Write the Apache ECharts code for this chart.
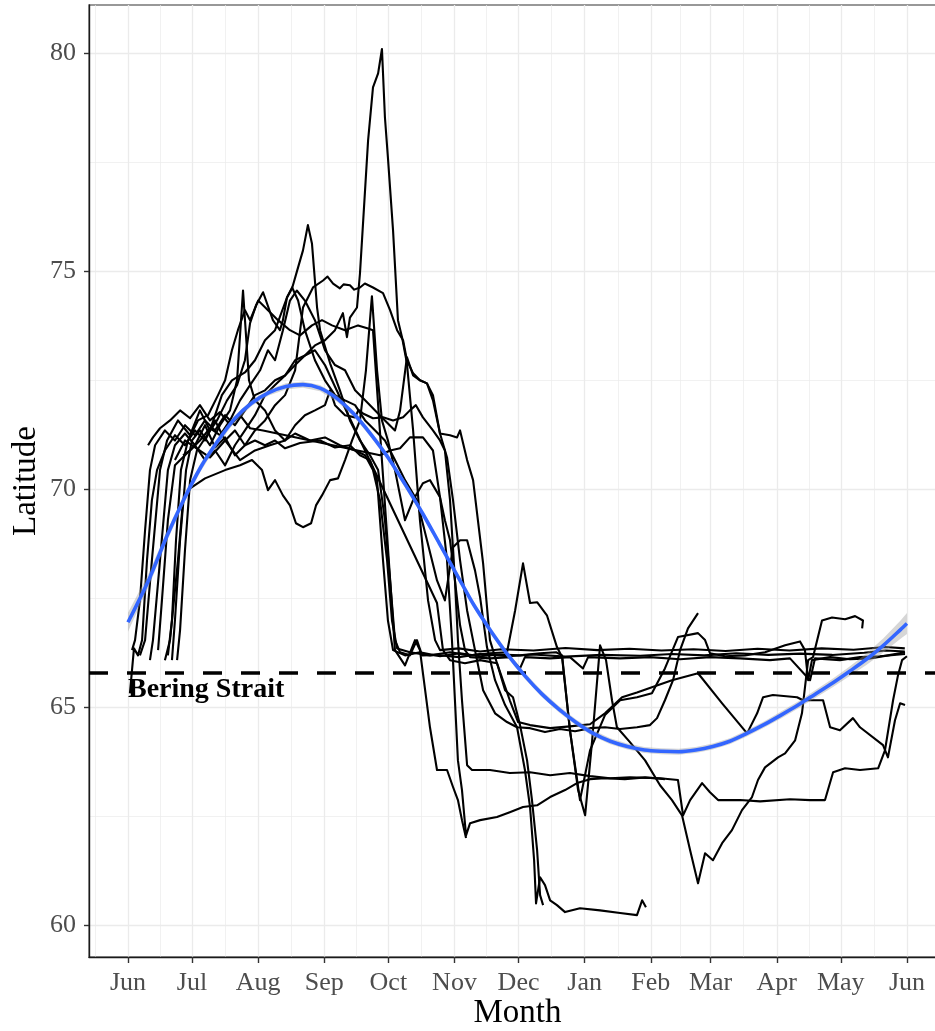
<!DOCTYPE html>
<html>
<head>
<meta charset="utf-8">
<script src="https://cdn.jsdelivr.net/npm/echarts@6/dist/echarts.min.js"></script>
<style>
  html, body { margin: 0; padding: 0; background: #ffffff; }
  #chart { width: 935px; height: 1031px; }
</style>
</head>
<body>
<div id="chart"></div>
<script>
// Days counted from 1 June; one year of tracking.
const monthStarts = [0, 30, 61, 92, 122, 153, 183, 214, 245, 273, 304, 334, 365];
const monthLabels = ['Jun', 'Jul', 'Aug', 'Sep', 'Oct', 'Nov', 'Dec', 'Jan', 'Feb', 'Mar', 'Apr', 'May', 'Jun'];
const monthMids = [-15.5, 15, 45.5, 76.5, 107, 137.5, 168, 198.5, 229.5, 259, 288.5, 319, 349.5, 380.5];
const latTicks = [60, 65, 70, 75, 80];
const latMinor = [62.5, 67.5, 72.5, 77.5];
const beringStraitLat = 65.78;

// Individual tracks: [day since 1 June, latitude]
const track01 = [[1.9,66.31],[3.3,66.54],[5.6,67.45],[8.0,69.06],[10.3,70.44],[12.7,71.01],[17.3,71.35],[22.0,71.12],[26.7,71.47],[31.4,71.24],[36.1,71.58],[40.8,71.35],[45.5,71.7],[50.1,71.47],[54.8,71.81],[59.5,72.16],[64.2,72.27],[68.9,72.5],[73.6,72.61],[78.3,72.85],[82.9,73.07],[87.6,73.3],[92.3,73.42],[97.0,73.65],[100.7,74.04],[102.6,73.49],[104.0,73.94],[107.3,74.17],[108.7,74.95],[112.5,78.0],[114.8,79.22],[117.2,79.54],[119.0,80.1],[120.4,78.53],[121.8,77.61],[124.2,75.94],[126.5,73.88],[128.4,73.49],[130.7,72.89],[133.6,71.35],[136.8,69.29],[140.6,67.45],[143.9,66.54],[146.2,66.31],[155,66.35],[165,66.28],[175,66.33],[190,66.3],[205,66.36],[220,66.31],[235,66.34],[250,66.3],[265,66.33],[280,66.29],[295,66.34],[310,66.3],[325,66.35],[340,66.32],[355,66.38],[364,66.35]];
const track02 = [[10.3,66.08],[11.7,66.54],[15.0,68.37],[18.7,70.44],[22.0,71.01],[26.7,71.28],[31.4,71.01],[36.1,71.47],[40.8,70.96],[45.5,71.19],[50.1,70.78],[54.8,71.01],[59.5,71.35],[64.2,71.58],[68.9,71.93],[73.6,72.16],[78.3,72.73],[82.0,74.17],[86.7,74.63],[91.4,74.79],[93.5,74.88],[96.1,74.72],[99.3,74.61],[101.0,74.7],[104.0,74.68],[106.0,74.58],[108.7,74.63],[111.0,74.72],[114.8,74.63],[119.5,74.5],[122.8,74.11],[126.1,73.65],[128.9,73.42],[130.7,72.96],[133.6,72.66],[136.8,72.5],[140.1,72.43],[142.9,72.04],[146.2,71.28],[149.5,70.73],[152.3,69.75],[155.6,68.37],[158.9,67.22],[162.6,66.31],[166.4,65.39],[172.0,64.86],[177.6,64.66],[182.3,64.54],[188.4,64.52],[195.4,64.43],[202.4,64.5],[209.5,64.45],[216.5,64.52],[223.5,64.54],[230.6,64.5],[238.5,64.54],[244.6,64.59],[247.9,64.75],[251.6,65.16],[255.4,65.62],[258.7,66.31],[262.4,66.81],[267.1,67.16]];
const track03 = [[5.6,66.19],[8.0,66.54],[11.2,68.37],[15.0,70.44],[18.3,71.12],[23.4,71.58],[29.1,71.24],[33.7,71.81],[38.4,71.35],[44.0,72.16],[48.7,72.5],[54.8,72.68],[59.5,72.96],[64.2,73.42],[68.9,73.65],[74.5,74.4],[76.9,74.61],[79.7,75.09],[82.0,75.48],[84.3,76.06],[86.2,75.64],[88.6,74.17],[90.0,73.65],[94.7,72.89],[99.3,72.27],[104.0,71.58],[108.7,71.12],[113.4,70.78],[117.2,70.44],[120.4,69.29],[122.8,67.91],[125.1,66.54],[127.5,66.26],[132.1,66.19],[135.4,66.54],[137.8,66.19],[145,66.2],[155,66.15],[165,66.22],[178,66.17],[190,66.21],[205,66.16],[222,66.2],[240,66.18],[255,66.22],[270,66.19],[285,66.24],[300,66.2],[315,66.23],[330,66.2],[345,66.25],[355,66.3],[364,66.28]];
const track04 = [[9.4,71.01],[11.7,71.19],[15.0,71.4],[19.7,71.58],[24.4,71.81],[29.1,71.63],[33.7,71.93],[38.4,71.58],[43.1,71.77],[47.8,71.47],[52.5,71.7],[57.2,71.4],[63.3,71.35],[118.1,70.78],[122.8,70.89],[127.5,70.94],[132.1,71.19],[138.2,71.19],[142.9,70.89],[146.2,69.82],[148.5,69.29],[150.9,68.83],[153.2,67.91],[155.6,66.88],[157.9,66.31],[160.3,66.15],[169.6,66.12],[178.9,66.15],[183.7,65.89],[186.0,66.15],[197.8,66.12],[207.1,66.15],[213.2,65.89],[215.6,66.15],[230.6,66.12],[244.6,66.15],[258.7,66.1],[272.7,66.15],[286.8,66.12],[300.8,66.08],[310.2,66.12],[319.6,65.62],[321.9,66.12],[333.6,66.08],[343.0,66.15],[352.4,66.17],[364.1,66.22]];
const track05 = [[22.0,70.67],[26.7,71.12],[31.4,70.96],[38.4,70.73],[45.5,71.12],[52.5,70.67],[59.5,70.89],[66.5,71.01],[73.6,71.12],[78.3,71.47],[82.9,71.7],[87.6,71.81],[92.3,71.93],[94.7,72.27],[97.0,71.93],[101.7,71.7],[106.4,71.65],[108.0,71.82],[110.1,71.74],[114.8,71.63],[119.5,71.65],[124.2,71.58],[128.9,71.65],[132.1,71.81],[134.9,71.93],[138.2,71.65],[142.9,71.35],[146.2,71.12],[148.5,70.89],[150.9,69.75],[153.2,67.91],[154.6,66.54],[156.5,65.16],[158.9,63.67],[161.2,63.56],[169.6,63.56],[178.9,63.49],[188.4,63.51],[197.8,63.44],[207.1,63.49],[216.5,63.42],[225.9,63.37],[235.2,63.39],[249.3,63.37],[257.7,63.33],[260.1,62.52],[263.4,62.87],[269.0,63.26],[272.7,63.05],[276.5,62.87],[286.8,62.87],[296.2,62.84],[310.2,62.89],[319.6,62.87],[326.6,62.87],[330.4,63.51],[336.0,63.6],[343.0,63.56],[351.5,63.6],[354.7,64.01],[358.5,65.16],[360.8,65.73],[362.7,66.08],[365.0,66.17]];
const track06 = [[17.3,66.08],[19.7,66.54],[23.4,68.37],[25.8,69.75],[29.1,70.02],[36.1,70.25],[45.5,70.44],[52.5,70.55],[58.1,70.67],[62.8,70.44],[65.6,69.98],[68.9,70.21],[72.6,69.86],[75.9,69.63],[78.7,69.22],[82.0,69.13],[85.8,69.22],[88.1,69.63],[90.9,69.86],[94.7,70.21],[98.4,70.25],[101.7,70.67],[105.0,71.12],[108.7,71.58],[111.5,72.73],[114.3,74.43],[116.7,72.73],[119.0,71.58],[121.8,71.12],[125.1,70.44],[129.8,69.29],[133.6,69.75],[138.2,70.14],[141.5,70.21],[146.2,69.82],[149.5,68.37],[151.8,66.54],[153.2,65.16],[154.6,63.78],[156.5,63.1],[158.4,62.06],[160.3,62.34],[165.0,62.41],[172.9,62.48],[178.9,62.59],[185.1,62.71],[191.7,62.75],[197.8,62.94],[204.8,63.1],[210.4,63.26],[216.5,63.35],[223.5,63.37],[232.8,63.35],[242.3,63.39],[251.6,63.35]];
const track07 = [[20.6,66.08],[22.0,66.99],[24.4,68.83],[27.2,70.44],[30.0,71.12],[33.7,71.35],[38.4,71.01],[43.1,71.47],[47.8,71.81],[51.1,72.5],[53.9,74.56],[56.7,72.5],[59.5,72.04],[64.2,71.81],[68.9,71.35],[73.6,71.12],[78.3,71.28],[85.3,71.12],[92.3,71.19],[99.3,71.01],[106.4,70.89],[111.1,70.78],[114.8,70.44],[118.1,69.75],[121.4,68.37],[123.7,66.99],[126.1,66.35],[132.1,66.26],[141.5,66.19],[150.9,66.26],[160.3,66.19],[169.6,66.24],[177.6,66.26],[181.4,67.22],[185.1,68.3],[188.4,67.39],[191.7,67.41],[196.3,67.11],[201.0,66.38],[203.4,66.15],[207.1,64.47],[210.9,63.1],[214.2,62.52],[217.5,64.24],[221.2,66.42],[224.0,66.08],[226.8,65.16],[229.1,64.54],[235.2,64.2],[242.3,63.78],[249.3,63.21],[254.9,62.87],[259.6,62.52],[263.4,61.72],[267.1,60.96],[270.4,61.65],[274.1,61.49],[278.4,61.88],[283.0,62.18],[287.7,62.64],[292.4,62.94],[295.2,63.33],[298.5,63.62],[304.6,63.85],[307.9,63.94],[312.6,64.24],[315.8,64.86],[318.7,66.08],[321.0,66.15],[325.2,66.99],[329.9,67.06],[336.0,67.02],[340.7,67.09],[344.4,66.99],[344.0,66.81]];
const track08 = [[23.0,66.08],[24.4,66.77],[26.7,68.6],[29.1,70.21],[32.3,70.89],[37.0,71.24],[41.7,71.58],[46.4,72.04],[51.1,72.39],[54.8,72.96],[57.2,73.81],[60.0,74.22],[63.3,74.52],[67.9,73.88],[71.2,73.65],[72.6,73.88],[74.5,74.4],[76.9,74.63],[79.7,74.33],[82.9,73.65],[87.6,72.96],[92.3,72.5],[97.0,72.16],[101.7,72.04],[106.4,71.93],[111.1,71.58],[115.8,71.35],[120.4,71.12],[125.1,70.67],[129.8,70.21],[135.4,69.75],[140.1,68.83],[144.8,67.91],[148.5,67.45],[152.3,68.67],[155.6,68.83],[158.9,68.83],[162.6,68.14],[165.0,67.52],[168.2,66.38],[172.0,65.62],[176.7,65.05],[182.3,64.54],[186.0,63.56],[188.4,62.71],[190.3,61.49],[191.2,60.5],[193.1,61.1],[195.4,60.92],[197.8,60.57],[201.0,60.46],[204.8,60.3],[211.8,60.39],[221.2,60.34],[230.6,60.28],[238.5,60.23],[240.9,60.57],[242.7,60.41]];
const track09 = [[25.8,70.78],[29.1,70.89],[33.7,71.12],[38.4,71.4],[43.1,71.24],[47.8,71.58],[52.5,72.04],[57.2,72.39],[61.9,72.73],[65.6,73.19],[68.9,72.96],[72.6,73.65],[75.9,74.33],[79.1,74.56],[82.9,74.33],[87.6,73.88],[92.3,73.19],[97.0,72.85],[101.7,72.73],[106.4,72.27],[111.1,72.04],[115.8,71.81],[120.4,71.58],[125.1,71.35],[127.5,71.81],[130.7,73.03],[133.6,72.61],[136.8,72.5],[140.1,72.43],[142.9,72.16],[146.2,71.28],[150.9,71.24],[154.2,71.19],[155.6,71.35],[158.9,70.67],[161.7,70.21],[166.4,68.3],[169.6,66.54],[172.9,66.01],[176.7,65.39],[180.4,65.23],[183.7,64.59],[187.0,63.78],[189.3,62.87],[191.7,61.72],[193.1,60.69],[194.5,60.46]];
const track10 = [[14.1,66.31],[15.9,67.45],[18.7,69.29],[22.0,70.55],[26.7,70.78],[31.4,71.01],[36.1,70.67],[40.8,70.89],[45.5,70.55],[50.1,71.01],[54.8,71.35],[59.5,71.7],[64.2,72.16],[68.9,72.39],[73.6,72.61],[78.3,72.96],[82.9,73.07],[87.6,73.19],[92.3,72.85],[99.3,72.11],[144.8,67.39],[147.6,66.31],[150.9,66.08],[157.9,66.01],[165.0,66.08],[172.9,66.01],[178.9,65.16],[182.8,64.66],[188.4,64.59],[197.8,64.52],[207.1,64.56],[216.5,64.61],[223.5,64.86],[231.5,65.23],[238.5,65.34],[245.5,65.46],[254.9,65.62],[267.1,65.78],[278.4,65.09],[290.1,64.4],[294.8,64.86],[297.6,65.23],[302.2,65.28],[313.5,65.23],[316.3,65.16],[325.7,65.16],[329.0,64.54],[333.6,64.47],[339.7,64.75],[343.0,64.54],[353.8,64.13],[356.1,63.85],[359.4,64.7],[361.8,65.09],[364.1,65.05]];
const track11 = [[0.9,65.32],[2.8,66.35],[4.7,66.19],[6.6,66.54],[8.9,68.37],[11.2,69.75],[13.6,70.44],[17.3,70.89],[22.0,71.24],[26.7,71.01],[31.4,71.35],[36.1,71.12],[40.8,71.58],[45.5,71.12],[50.1,71.35],[54.8,71.01],[59.5,71.12],[64.2,71.01],[68.9,71.12],[73.6,70.94],[80.6,71.06],[90.0,71.12],[97.0,70.96],[104.0,71.01],[108.7,70.78],[113.4,70.67],[116.7,70.21],[119.5,68.37],[121.8,66.99],[124.2,66.31],[129.8,66.19],[136.8,66.26],[146.2,66.17],[155.6,66.24],[165.0,66.17],[174.3,66.21],[183.7,66.19],[193.1,66.24],[200.6,66.26],[203.4,66.19],[207.1,64.47],[211.8,62.87],[216.5,64.01],[223.5,64.82],[230.6,65.16],[238.5,65.23],[245.5,65.32],[251.6,65.89],[257.7,66.61],[267.1,66.7],[270.4,66.54],[272.7,66.24],[279.8,66.17],[289.1,66.19],[298.5,66.26],[307.9,66.42],[314.9,66.51],[317.2,66.31],[318.7,65.62],[320.5,66.08],[329.0,66.15],[338.3,66.1],[347.7,66.12],[356.1,66.19],[364.1,66.26]];
const track12 = [[18.7,66.19],[20.6,66.99],[22.5,68.83],[24.8,70.44],[28.1,71.12],[32.8,71.58],[37.5,71.7],[42.2,72.16],[45.5,72.5],[48.7,73.19],[51.5,73.65],[54.8,74.11],[57.2,73.88],[61.0,74.33],[65.6,74.11],[70.3,73.88],[75.9,73.65],[80.6,73.53],[86.2,73.76],[90.9,73.88],[95.6,73.76],[101.7,73.65],[107.8,73.76],[112.5,73.69],[114.8,73.65],[125.1,66.31],[129.8,65.96],[134.5,66.54],[136.8,66.31],[141.5,64.54],[144.8,63.56],[149.5,63.56],[152.3,63.17],[154.6,62.87],[156.5,62.41],[158.4,62.0]];

const tracks = [track01, track02, track03, track04, track05, track06, track07, track08, track09, track10, track11, track12];

// Smoothed seasonal trend with its standard error
const fitDay = [0,10,18,26,34,42,50,58,66,74,82,90,98,106,114,122,130,138,146,154,162,170,178,186,194,202,210,218,226,234,242,250,258,266,274,282,290,298,306,314,322,330,338,346,354,362,365];
const fitLat = [66.95,67.95,68.9,69.75,70.5,71.1,71.62,71.98,72.22,72.36,72.4,72.32,72.08,71.72,71.25,70.72,70.1,69.45,68.75,68.05,67.35,66.75,66.2,65.72,65.3,64.95,64.65,64.4,64.22,64.1,64.02,63.99,63.98,64.02,64.1,64.22,64.4,64.6,64.82,65.05,65.3,65.55,65.82,66.1,66.42,66.78,66.92];
const fitSE = [0.22,0.15,0.12,0.1,0.09,0.08,0.08,0.07,0.07,0.07,0.07,0.07,0.07,0.07,0.07,0.07,0.07,0.07,0.07,0.07,0.07,0.07,0.07,0.07,0.07,0.07,0.07,0.07,0.07,0.07,0.07,0.07,0.07,0.07,0.07,0.07,0.07,0.07,0.08,0.08,0.09,0.1,0.11,0.13,0.16,0.21,0.24];

const serif = '"Liberation Serif", "Times New Roman", serif';
const chart = echarts.init(document.getElementById('chart'), null, { renderer: 'canvas' });

const gridLines = [];
monthStarts.forEach(d => gridLines.push({ xAxis: d, lineStyle: { width: 1.3 } }));
monthMids.forEach(d => gridLines.push({ xAxis: d, lineStyle: { width: 0.7 } }));
latTicks.forEach(v => gridLines.push({ yAxis: v, lineStyle: { width: 1.3 } }));
latMinor.forEach(v => gridLines.push({ yAxis: v, lineStyle: { width: 0.7 } }));

const fitPoints = fitDay.map((d, i) => [d, fitLat[i]]);

const series = [];

// background grid
series.push({
  type: 'line',
  data: [fitPoints[0]],
  symbol: 'none',
  lineStyle: { width: 0, opacity: 0 },
  silent: true,
  z: 0,
  markLine: {
    silent: true,
    symbol: ['none', 'none'],
    label: { show: false },
    lineStyle: { color: '#ebebeb', type: 'solid' },
    data: gridLines,
    z: 0
  }
});

tracks.forEach((t, i) => {
  series.push({
    name: 'track' + (i + 1),
    type: 'line',
    data: t,
    symbol: 'none',
    showSymbol: false,
    silent: true,
    clip: true,
    lineStyle: { color: '#000000', width: 2.1, join: 'round' },
    z: 2
  });
});

// Bering Strait reference latitude and its label
series.push({
  type: 'scatter',
  data: [[0, 65.41]],
  symbolSize: 0,
  silent: true,
  z: 3,
  itemStyle: { color: '#000000', opacity: 1 },
  label: {
    show: true,
    formatter: 'Bering Strait',
    position: [0, 0],
    align: 'left',
    verticalAlign: 'middle',
    fontFamily: serif,
    fontWeight: 'bold',
    fontSize: 28,
    color: '#000000',
    opacity: 1
  },
  markLine: {
    silent: true,
    symbol: ['none', 'none'],
    label: { show: false },
    lineStyle: { color: '#000000', width: 3.6, type: [19, 19] },
    data: [{ yAxis: beringStraitLat }]
  }
});

// confidence band of the trend
series.push({
  type: 'custom',
  coordinateSystem: 'cartesian2d',
  data: fitPoints,
  silent: true,
  z: 4,
  renderItem: (params, api) => {
    if (params.dataIndex !== 0) return null;
    const upper = fitDay.map((d, i) => api.coord([d, fitLat[i] + fitSE[i]]));
    const lower = fitDay.map((d, i) => api.coord([d, fitLat[i] - fitSE[i]])).reverse();
    return {
      type: 'polygon',
      shape: { points: upper.concat(lower) },
      style: { fill: 'rgba(153,153,153,0.4)', stroke: null }
    };
  }
});

// trend line
series.push({
  type: 'line',
  data: fitPoints,
  symbol: 'none',
  smooth: 0.3,
  silent: true,
  lineStyle: { color: '#3366FF', width: 3.6 },
  z: 5
});

chart.setOption({
  animation: false,
  backgroundColor: '#ffffff',
  grid: {
    left: 89, right: -11, top: 5, bottom: 74,
    containLabel: false,
    outerBoundsMode: 'none',
    show: true, borderColor: '#777777', borderWidth: 1.5, backgroundColor: 'transparent'
  },
  xAxis: {
    type: 'value',
    min: -18.27,
    max: 383.3,
    name: 'Month',
    nameLocation: 'middle',
    nameGap: 40,
    nameMoveOverlap: false,
    nameTextStyle: { fontFamily: serif, fontSize: 33, color: '#000000' },
    axisLine: { show: true, onZero: false, lineStyle: { color: '#1a1a1a', width: 1.4 } },
    axisTick: { show: true, customValues: monthStarts, length: 6, lineStyle: { color: '#333333', width: 1.4 } },
    axisLabel: {
      customValues: monthStarts,
      formatter: v => monthLabels[monthStarts.indexOf(v)],
      fontFamily: serif, fontSize: 26, color: '#4d4d4d', margin: 13
    },
    splitLine: { show: false }
  },
  yAxis: {
    type: 'value',
    min: 59.27,
    max: 81.11,
    name: 'Latitude',
    nameLocation: 'middle',
    nameGap: 46,
    nameMoveOverlap: false,
    nameRotate: 90,
    nameTextStyle: { fontFamily: serif, fontSize: 33, color: '#000000' },
    axisLine: { show: true, onZero: false, lineStyle: { color: '#1a1a1a', width: 1.4 } },
    axisTick: { show: true, customValues: latTicks, length: 5, lineStyle: { color: '#333333', width: 1.4 } },
    axisLabel: {
      customValues: latTicks,
      fontFamily: serif, fontSize: 26, color: '#4d4d4d', margin: 13
    },
    splitLine: { show: false }
  },
  series: series
});
</script>
</body>
</html>
